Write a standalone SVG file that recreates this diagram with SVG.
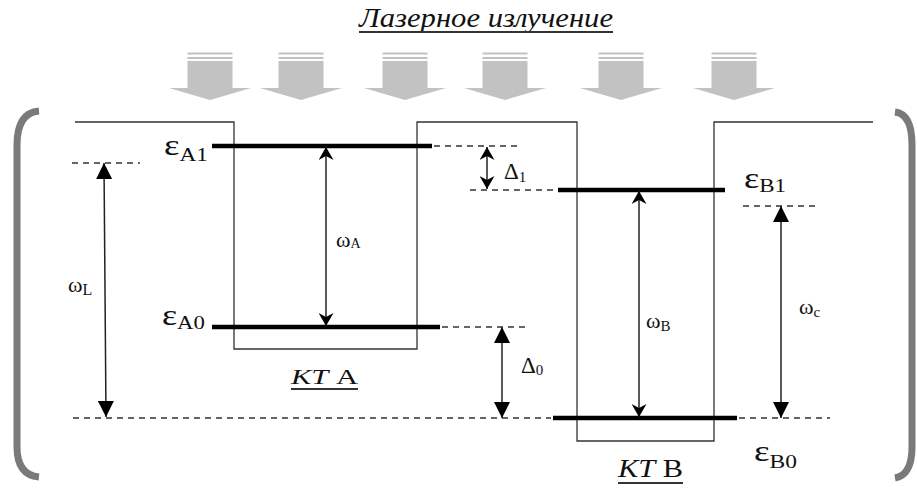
<svg xmlns="http://www.w3.org/2000/svg" width="917" height="488" viewBox="0 0 917 488">
<style>
  text { font-family: "Liberation Serif", "Times New Roman", serif; fill: #111; }
  .well { fill: none; stroke: #333; stroke-width: 1.3; }
  .level { stroke: #000; stroke-width: 4.5; }
  .dash { stroke: #333; stroke-width: 1.3; stroke-dasharray: 6 5; fill: none; }
  .arr { stroke: #222; stroke-width: 1.5; fill: none; }
  .tri { marker-start: url(#tri); marker-end: url(#tri); }
  .barb { marker-start: url(#barb); marker-end: url(#barb); }
  .beam { fill: #c2c2c2; }
  .bracket { fill: none; stroke: #7a7a7a; stroke-width: 7; stroke-linecap: butt; }
  .ul { stroke: #333; stroke-width: 2; }
</style>
<defs>
  <marker id="tri" markerUnits="userSpaceOnUse" markerWidth="16" markerHeight="16" viewBox="0 0 15 15" refX="15" refY="7.5" orient="auto-start-reverse">
    <path d="M0,0 L15,7.5 L0,15 z" fill="#000"/>
  </marker>
  <marker id="barb" markerUnits="userSpaceOnUse" markerWidth="14" markerHeight="15" viewBox="0 0 13 15" refX="13" refY="7.5" orient="auto-start-reverse">
    <path d="M13,7.5 L0,0 L4,7.5 L0,15 z" fill="#000"/>
  </marker>
  <g id="beamShape">
    <rect x="-22.5" y="52.5" width="45" height="2" class="beam"/>
    <rect x="-22.5" y="57" width="45" height="2" class="beam"/>
    <rect x="-22.5" y="61" width="45" height="27" class="beam"/>
    <path d="M-41,88 L41,88 L0,100 z" class="beam"/>
  </g>
</defs>
<rect width="917" height="488" fill="#fff"/>

<g id="title">
  <text x="359" y="27" font-size="28" font-style="italic" textLength="254" lengthAdjust="spacingAndGlyphs">Лазерное излучение</text>
  <line x1="359" y1="32" x2="613" y2="32" class="ul"/>
</g>

<g id="laser-beams">
  <use href="#beamShape" x="210"/>
  <use href="#beamShape" x="301"/>
  <use href="#beamShape" x="405"/>
  <use href="#beamShape" x="505"/>
  <use href="#beamShape" x="621"/>
  <use href="#beamShape" x="734"/>
</g>

<g id="brackets">
  <path class="bracket" d="M39,111 Q17,113 17,145 V447 Q17,475 39,477"/>
  <path class="bracket" d="M895,112 Q912,114 912,145 V447 Q912,475 895,478"/>
</g>

<g id="potential">
  <path class="well" d="M75,122 H234 V349 H417 V122 H577 V441 H714 V122 H873"/>
</g>

<g id="qd-A">
  <line class="level" x1="212" y1="146" x2="432" y2="146"/>
  <line class="level" x1="212" y1="327" x2="440" y2="327"/>
  <text x="291" y="384" font-size="22" textLength="67" lengthAdjust="spacingAndGlyphs"><tspan font-style="italic">КТ</tspan> А</text>
  <line x1="291" y1="389" x2="358" y2="389" class="ul" stroke-width="2.5"/>
</g>

<g id="qd-B">
  <line class="level" x1="558" y1="190" x2="725" y2="190"/>
  <line class="level" x1="553" y1="418" x2="737" y2="418"/>
  <text x="618" y="477" font-size="26" textLength="65" lengthAdjust="spacingAndGlyphs"><tspan font-style="italic">КТ</tspan> В</text>
  <line x1="618" y1="483" x2="683" y2="483" class="ul" stroke-width="2.5"/>
</g>

<g id="labels">
  <text x="164" y="155" textLength="44" lengthAdjust="spacingAndGlyphs"><tspan font-size="30">ε</tspan><tspan font-size="19" dy="6">A1</tspan></text>
  <text x="162" y="325" textLength="43" lengthAdjust="spacingAndGlyphs"><tspan font-size="30">ε</tspan><tspan font-size="19" dy="4">A0</tspan></text>
  <text x="744" y="188" textLength="42" lengthAdjust="spacingAndGlyphs"><tspan font-size="30">ε</tspan><tspan font-size="19" dy="4">B1</tspan></text>
  <text x="754" y="461" textLength="43" lengthAdjust="spacingAndGlyphs"><tspan font-size="30">ε</tspan><tspan font-size="19" dy="7">B0</tspan></text>
  <text x="68" y="292"><tspan font-size="22">ω</tspan><tspan font-size="16" dy="3">L</tspan></text>
  <text x="336" y="247"><tspan font-size="22">ω</tspan><tspan font-size="14" dy="1">A</tspan></text>
  <text x="646" y="328"><tspan font-size="22">ω</tspan><tspan font-size="15" dy="3">B</tspan></text>
  <text x="799" y="314"><tspan font-size="22">ω</tspan><tspan font-size="15" dy="3">c</tspan></text>
  <text x="504" y="179"><tspan font-size="23">Δ</tspan><tspan font-size="15" dy="3">1</tspan></text>
  <text x="521" y="373"><tspan font-size="23">Δ</tspan><tspan font-size="15" dy="2">0</tspan></text>
</g>

<g id="connectors">
  <line class="dash" x1="72" y1="163" x2="140" y2="163"/>
  <line class="dash" x1="434" y1="146" x2="520" y2="146"/>
  <line class="dash" x1="470" y1="190" x2="556" y2="190"/>
  <line class="dash" x1="442" y1="327" x2="528" y2="327"/>
  <line class="dash" x1="73" y1="418" x2="551" y2="418"/>
  <line class="dash" x1="743" y1="206" x2="818" y2="206"/>
  <line class="dash" x1="739" y1="418" x2="830" y2="418"/>

  <line class="arr tri" x1="104" y1="163" x2="106" y2="417"/>
  <line class="arr tri" x1="502" y1="327" x2="502" y2="418"/>
  <line class="arr tri" x1="781" y1="206" x2="781" y2="418"/>
  <line class="arr barb" x1="326" y1="147" x2="326" y2="326"/>
  <line class="arr barb" x1="487" y1="147" x2="487" y2="189"/>
  <line class="arr barb" x1="639" y1="191" x2="639" y2="417"/>
</g>
</svg>
